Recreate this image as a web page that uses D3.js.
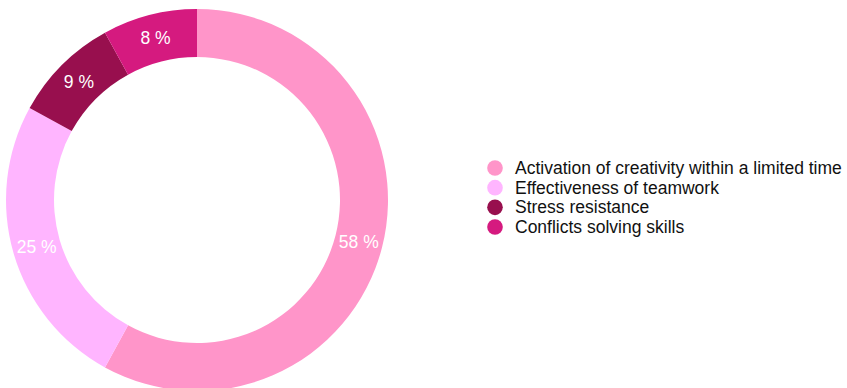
<!DOCTYPE html>
<html>
<head>
<meta charset="utf-8">
<script src="https://cdn.jsdelivr.net/npm/d3@7"></script>
<style>
  body { margin: 0; background: #fff; }
  text { font-family: "Liberation Sans", Arial, Helvetica, sans-serif; }
</style>
</head>
<body>
<div id="chart-area"></div>
<script>
var categories = [
  'Activation of creativity within a limited time',
  'Effectiveness of teamwork',
  'Stress resistance',
  'Conflicts solving skills'
];
var values = [58, 25, 9, 8];
var colors = ['#ff95c9', '#ffb5ff', '#980f4e', '#d51a7f'];

var width = 847;
var height = 388;

var svg = d3.select('#chart-area')
  .append('svg')
  .attr('width', width)
  .attr('height', height);

// Donut
var outerR = 191;
var innerR = 143;

var g = svg.append('g')
  .attr('transform', 'translate(197, 200)');

var pie = d3.pie()
  .sort(null)
  .value(function(d) { return d; });

var arc = d3.arc()
  .innerRadius(innerR)
  .outerRadius(outerR);

var arcs = pie(values);

g.selectAll('path')
  .data(arcs)
  .enter()
  .append('path')
    .attr('d', arc)
    .attr('fill', function(d, i) { return colors[i]; });

g.selectAll('text')
  .data(arcs)
  .enter()
  .append('text')
    .attr('transform', function(d) {
      return 'translate(' + arc.centroid(d) + ')';
    })
    .attr('text-anchor', 'middle')
    .attr('dy', '0.35em')
    .attr('font-size', '17.5px')
    .attr('fill', '#fff')
    .text(function(d) { return d.value + ' %'; });

// Legend
var legend = svg.append('g')
  .attr('transform', 'translate(495, 168)');

var y = d3.scalePoint()
  .domain(categories)
  .range([0, 59]);

var rows = legend.selectAll('g')
  .data(categories)
  .enter()
  .append('g')
    .attr('transform', function(d) { return 'translate(0, ' + y(d) + ')'; });

rows.append('circle')
  .attr('r', 7.8)
  .attr('fill', function(d, i) { return colors[i]; });

rows.append('text')
  .attr('x', 20)
  .attr('dy', '0.35em')
  .attr('font-size', '17.5px')
  .attr('fill', '#111')
  .text(function(d) { return d; });
</script>
</body>
</html>
